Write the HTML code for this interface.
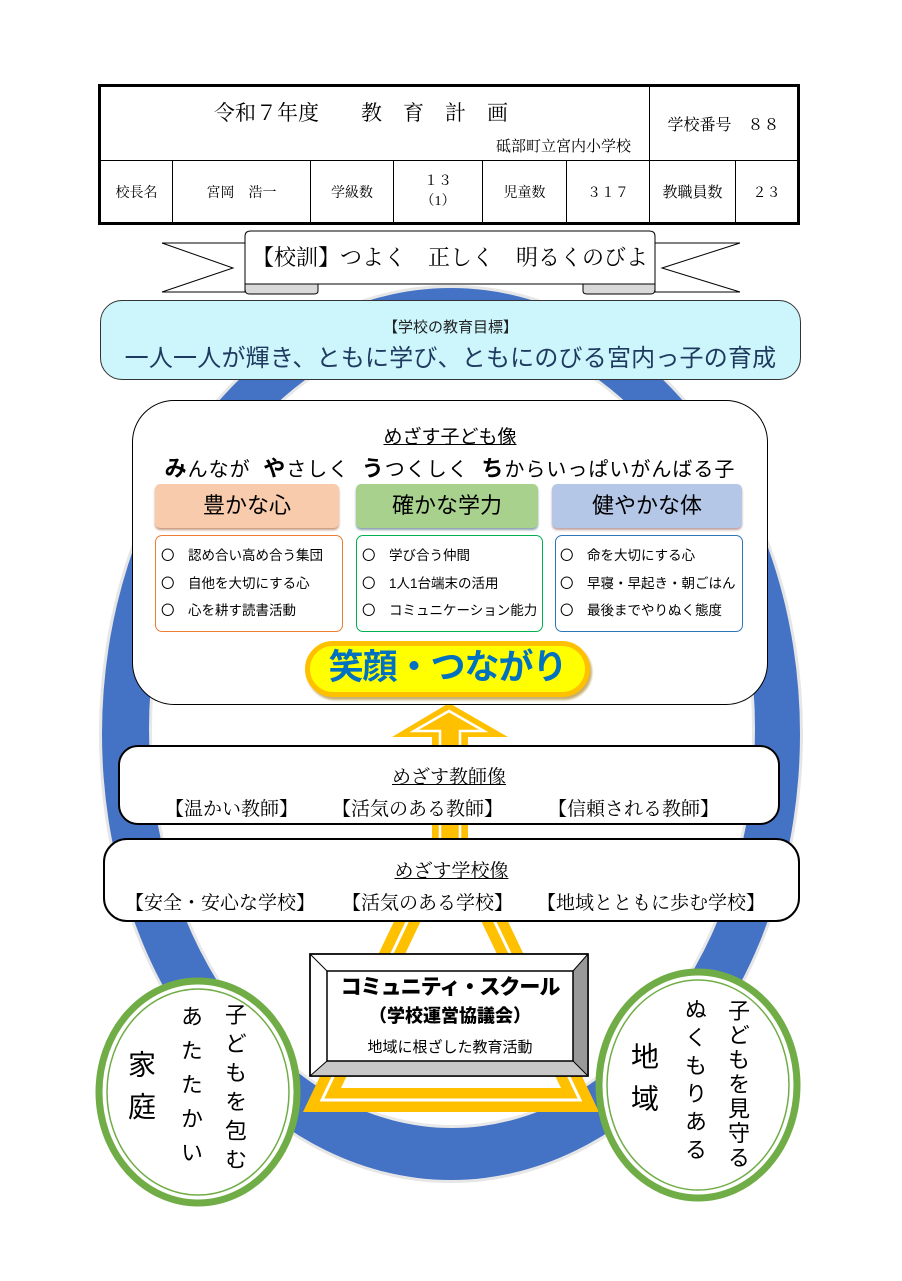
<!DOCTYPE html>
<html><head><meta charset="utf-8">
<style>
*{margin:0;padding:0;box-sizing:border-box}
body{width:902px;height:1281px;background:#fff;position:relative;overflow:hidden;font-family:"Liberation Sans","Noto Sans CJK JP",sans-serif;color:#000}
.a{position:absolute}
.serif{font-family:"Liberation Serif","Noto Serif CJK SC","Noto Sans CJK JP",serif}
table{border-collapse:collapse}
td{border:1px solid #000;text-align:center;font-size:14px;font-family:"Liberation Serif","Noto Serif CJK SC",serif}
.v{writing-mode:vertical-rl;text-orientation:upright;white-space:nowrap}
.c{text-align:center;white-space:nowrap}
.n{white-space:nowrap}
</style></head><body>

<svg class="a" style="left:0;top:0" width="902" height="1281">
  <ellipse cx="451" cy="734" rx="352" ry="449" fill="#e6e6e6"/>
  <ellipse cx="451" cy="734" rx="349" ry="446" fill="#4472c4"/>
  <ellipse cx="452" cy="729" rx="303" ry="399" fill="#e8e8e8"/>
  <ellipse cx="452" cy="729" rx="300" ry="396" fill="#fff"/>
  <polygon points="451,830 322,1100 580,1100" fill="none" stroke="#ffc000" stroke-width="24" stroke-linejoin="miter"/>
  <polygon points="451,830 322,1100 580,1100" fill="none" stroke="#fff" stroke-width="3" stroke-linejoin="miter"/>
  <polygon points="449,703 508,737 468,737 468,840 432,840 432,737 392,737" fill="#ffc000"/>
  <polyline points="440,840 440,731 414,731 449,711 484,731 460,731 460,840" fill="none" stroke="#fff" stroke-width="2.5"/>
  <polygon points="162,243 245,243 245,292 162,292 233,268" fill="#fff" stroke="#000" stroke-width="1"/>
  <polygon points="740,243 655,243 655,292 740,292 662,268" fill="#fff" stroke="#000" stroke-width="1"/>
  <path d="M245,284 L318,284 L318,291 Q318,294 314,294 L249,294 Q245,294 245,289 Z" fill="#d9d9d9" stroke="#000"/>
  <path d="M583,284 L655,284 L655,289 Q655,294 651,294 L587,294 Q583,294 583,291 Z" fill="#d9d9d9" stroke="#000"/>
  <path d="M245,236 Q245,231 251,231 L649,231 Q655,231 655,236 L655,284 L245,284 Z" fill="#fff" stroke="#000"/>
  <ellipse cx="198" cy="1092" rx="99" ry="111" fill="#fff" stroke="#70ad47" stroke-width="7"/>
  <ellipse cx="198" cy="1092" rx="91" ry="103" fill="none" stroke="#70ad47" stroke-width="1.5"/>
  <ellipse cx="698" cy="1085" rx="99" ry="113" fill="#fff" stroke="#70ad47" stroke-width="7"/>
  <ellipse cx="698" cy="1085" rx="91" ry="105" fill="none" stroke="#70ad47" stroke-width="1.5"/>
  <rect x="310" y="954" width="278" height="122" fill="#fff" stroke="#000" stroke-width="1.5"/>
  <polygon points="573,971 588,954 588,1076 573,1061" fill="#999"/>
  <polygon points="327,1061 573,1061 588,1076 310,1076" fill="#c8c8c8"/>
  <line x1="310" y1="954" x2="327" y2="971" stroke="#000"/>
  <line x1="588" y1="954" x2="573" y2="971" stroke="#000"/>
  <line x1="310" y1="1076" x2="327" y2="1061" stroke="#000"/>
  <line x1="588" y1="1076" x2="573" y2="1061" stroke="#000"/>
  <rect x="310" y="954" width="278" height="122" fill="none" stroke="#000" stroke-width="1.5"/>
  <rect x="327" y="971" width="246" height="90" fill="#fff" stroke="#000" stroke-width="1.5"/>
</svg>

<table class="a" style="left:98px;top:84px;width:702px;height:141px;border:3px solid #000">
<tr style="height:75px">
<td colspan="6" style="position:relative;vertical-align:top">
  <div class="a c" style="left:0;width:520px;top:10px;font-size:21px">令和７年度　　教　育　計　画</div>
  <div class="a" style="right:18px;top:48px;font-size:15px">砥部町立宮内小学校</div>
</td>
<td colspan="2" style="font-size:16px">学校番号　８８</td>
</tr>
<tr>
<td style="width:73px">校長名</td><td style="width:138px">宮岡　浩一</td><td style="width:83px">学級数</td>
<td style="width:89px;line-height:20px">１３<br>（1）</td><td style="width:84px">児童数</td><td style="width:83px">３１７</td>
<td style="width:86px;font-size:15px">教職員数</td><td>２３</td>
</tr>
</table>

<div class="a c serif" style="left:245px;width:410px;top:241px;font-size:22px">【校訓】つよく　正しく　明るくのびよ</div>

<div class="a" style="left:100px;top:300px;width:701px;height:80px;background:#ccf5fc;border:1.5px solid #333;border-radius:22px"></div>
<div class="a c" style="left:100px;width:701px;top:316px;font-size:15px;color:#222">【学校の教育目標】</div>
<div class="a c" style="left:100px;width:701px;top:338px;font-size:24px;color:#1f3a5f;letter-spacing:0.2px">一人一人が輝き、ともに学び、ともにのびる宮内っ子の育成</div>

<div class="a" style="left:132px;top:400px;width:636px;height:305px;background:#fff;border:1.5px solid #000;border-radius:42px"></div>
<div class="a c" style="left:132px;width:636px;top:422px;font-size:19px"><span style="text-decoration:underline">めざす子ども像</span></div>
<div class="a c" style="left:132px;width:636px;top:451px;font-size:20px;letter-spacing:1px;word-spacing:6px"><b style="font-size:22px">み</b>んなが <b style="font-size:22px">や</b>さしく <b style="font-size:22px">う</b>つくしく <b style="font-size:22px">ち</b>からいっぱいがんばる子</div>

<div class="a c" style="left:155px;top:484px;width:184px;height:44px;background:#f8cbad;border-radius:5px;box-shadow:0 2px 2px #c89a80;font-size:22px;line-height:44px">豊かな心</div>
<div class="a c" style="left:356px;top:484px;width:182px;height:44px;background:#a9d18e;border-radius:5px;box-shadow:0 2px 2px #8aa0b0;font-size:22px;line-height:44px">確かな学力</div>
<div class="a c" style="left:552px;top:484px;width:190px;height:44px;background:#b4c7e7;border-radius:5px;box-shadow:0 2px 2px #c0a0a0;font-size:22px;line-height:44px">健やかな体</div>

<div class="a" style="left:155px;top:535px;width:188px;height:97px;border:1.5px solid #ed7d31;border-radius:7px;font-size:13.5px;line-height:27.5px;padding:6px 0 0 5px;white-space:nowrap">〇　認め合い高め合う集団<br>〇　自他を大切にする心<br>〇　心を耕す読書活動</div>
<div class="a" style="left:356px;top:535px;width:187px;height:97px;border:1.5px solid #00b050;border-radius:7px;font-size:13.5px;line-height:27.5px;padding:6px 0 0 5px;white-space:nowrap">〇　学び合う仲間<br>〇　1人1台端末の活用<br>〇　コミュニケーション能力</div>
<div class="a" style="left:555px;top:535px;width:188px;height:97px;border:1.5px solid #2e75b6;border-radius:7px;font-size:13.5px;line-height:27.5px;padding:6px 0 0 4px;white-space:nowrap">〇　命を大切にする心<br>〇　早寝・早起き・朝ごはん<br>〇　最後までやりぬく態度</div>

<div class="a c" style="left:305px;top:641px;width:285px;height:56px;background:#ffff00;border:5px solid #ffc000;border-radius:28px;box-shadow:2px 3px 2px #c8b070;font-size:35px;font-weight:bold;color:#0070c0;line-height:44px;letter-spacing:-1px">笑顔・つながり</div>

<div class="a" style="left:118px;top:745px;width:662px;height:80px;background:#fff;border:2px solid #000;border-radius:20px"></div>
<div class="a c serif" style="left:118px;width:662px;top:762px;font-size:19px"><span style="text-decoration:underline">めざす教師像</span></div>
<div class="a n serif" style="left:165px;top:794px;font-size:19px">【温かい教師】</div>
<div class="a n serif" style="left:332px;top:794px;font-size:19px">【活気のある教師】</div>
<div class="a n serif" style="left:548px;top:794px;font-size:19px">【信頼される教師】</div>

<div class="a" style="left:103px;top:838px;width:697px;height:84px;background:#fff;border:2px solid #000;border-radius:24px"></div>
<div class="a c serif" style="left:103px;width:697px;top:856px;font-size:19px"><span style="text-decoration:underline">めざす学校像</span></div>
<div class="a n serif" style="left:125px;top:888px;font-size:19px">【安全・安心な学校】</div>
<div class="a n serif" style="left:342px;top:888px;font-size:19px">【活気のある学校】</div>
<div class="a n serif" style="left:537px;top:888px;font-size:19px">【地域とともに歩む学校】</div>

<div class="a c" style="left:327px;width:246px;top:971px;font-size:21px;font-weight:900;letter-spacing:-1px">コミュニティ・スクール</div>
<div class="a c" style="left:327px;width:246px;top:1002px;font-size:18px;font-weight:900">（学校運営協議会）</div>
<div class="a c" style="left:327px;width:246px;top:1036px;font-size:15px">地域に根ざした教育活動</div>

<div class="a v" style="left:125px;top:1050px;font-size:28px;line-height:30px;letter-spacing:14px">家庭</div>
<div class="a v" style="left:178px;top:1005px;font-size:22px;line-height:24px;letter-spacing:12px">あたたかい</div>
<div class="a v" style="left:222px;top:1003px;font-size:22px;line-height:24px;letter-spacing:7px">子どもを包む</div>

<div class="a v" style="left:628px;top:1042px;font-size:28px;line-height:30px;letter-spacing:14px">地域</div>
<div class="a v" style="left:682px;top:998px;font-size:22px;line-height:24px;letter-spacing:6px">ぬくもりある</div>
<div class="a v" style="left:725px;top:999px;font-size:22px;line-height:24px;letter-spacing:2.5px">子どもを見守る</div>

</body></html>
